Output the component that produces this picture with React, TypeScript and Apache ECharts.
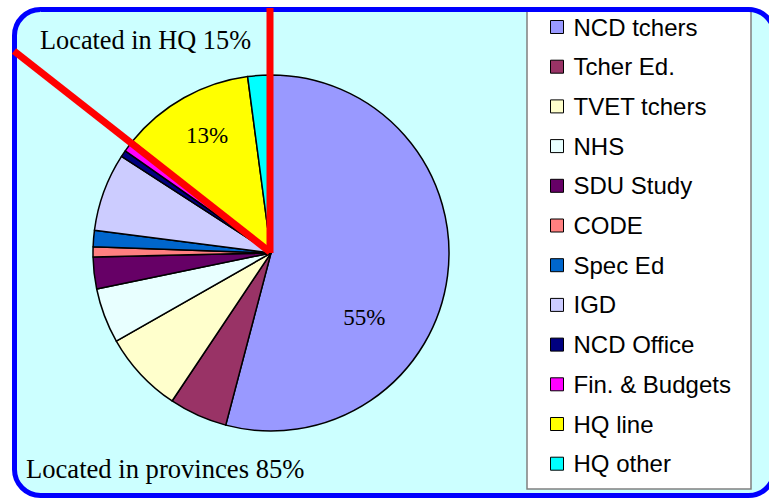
import React, { useEffect, useRef } from "react";
import * as echarts from "echarts";

const categories = [
  "NCD tchers",
  "Tcher Ed.",
  "TVET tchers",
  "NHS",
  "SDU Study",
  "CODE",
  "Spec Ed",
  "IGD",
  "NCD Office",
  "Fin. & Budgets",
  "HQ line",
  "HQ other",
];
const values = [54.2, 5.3, 7.4, 5.0, 2.9, 0.9, 1.5, 7.1, 0.6, 1.1, 12.1, 2.1];
const colors = [
  "#9999FF",
  "#993366",
  "#FFFFCC",
  "#E8FFFF",
  "#660066",
  "#FF8080",
  "#0066CC",
  "#CCCCFF",
  "#000080",
  "#FF00FF",
  "#FFFF00",
  "#00FFFF",
];
const sliceLabels = ["55%", "", "", "", "", "", "", "", "", "", "13%", ""];
const sliceLabelOffsets: Record<number, number[]> = { 0: [2, 53], 10: [-19, -37] };
const hqText = "Located in HQ 15%";
const provText = "Located in provinces 85%";

export default function App() {
  const ref = useRef<HTMLDivElement>(null);
  useEffect(() => {
    if (!ref.current) return;
    const chart = echarts.init(ref.current, undefined, { renderer: "svg" });
    const cx = 271;
    const cy = 253;
    chart.setOption({
      animation: false,
      graphic: [
        {
          type: "rect",
          z: -1,
          shape: { x: 14.5, y: 9.5, width: 760, height: 486, r: 26 },
          style: { fill: "#CCFFFF", stroke: "none" },
        },
        {
          type: "rect",
          z: 3,
          shape: { x: 527, y: 8, width: 224, height: 481 },
          style: { fill: "#FFFFFF", stroke: "#808080", lineWidth: 1.5 },
        },
        {
          type: "rect",
          z: 100,
          shape: { x: 14.5, y: 9.5, width: 760, height: 486, r: 26 },
          style: { fill: "none", stroke: "#0000FF", lineWidth: 5 },
        },
        {
          type: "line",
          z: 100,
          shape: { x1: cx - 1, y1: cy, x2: cx - 1, y2: 8 },
          style: { stroke: "#FF0000", lineWidth: 7 },
        },
        {
          type: "line",
          z: 100,
          shape: { x1: cx - 1, y1: cy - 1, x2: 14, y2: 51 },
          style: { stroke: "#FF0000", lineWidth: 7 },
        },
        {
          type: "text",
          z: 100,
          x: 40,
          y: 40,
          style: {
            text: hqText,
            fontFamily: "Liberation Serif, Times New Roman, serif",
            fontSize: 26.3,
            fill: "#000",
            verticalAlign: "middle",
          },
        },
        {
          type: "text",
          z: 100,
          x: 26,
          y: 469,
          style: {
            text: provText,
            fontFamily: "Liberation Serif, Times New Roman, serif",
            fontSize: 26.6,
            fill: "#000",
            verticalAlign: "middle",
          },
        },
      ],
      legend: {
        orient: "vertical",
        left: 550,
        top: 15,
        height: 475,
        padding: 0,
        icon: "rect",
        itemWidth: 13,
        itemHeight: 13,
        itemGap: 15.7,
        selectedMode: false,
        data: categories,
        itemStyle: { borderColor: "#000", borderWidth: 1 },
        textStyle: {
          fontFamily: "Liberation Sans, Arial, sans-serif",
          fontSize: 24,
          color: "#000",
          padding: [0, 0, 0, 5],
        },
      },
      series: [
        {
          type: "pie",
          center: [cx, cy],
          radius: 178,
          startAngle: 90,
          clockwise: true,
          avoidLabelOverlap: false,
          emphasis: { disabled: true },
          itemStyle: { borderColor: "#000", borderWidth: 1.5 },
          labelLine: { show: false },
          label: {
            show: true,
            position: "inside",
            fontFamily: "Liberation Serif, Times New Roman, serif",
            fontSize: 23,
            color: "#000",
            formatter: (p: any) => sliceLabels[p.dataIndex],
          },
          data: categories.map((name, i) => ({
            name,
            value: values[i],
            itemStyle: { color: colors[i] },
            label: sliceLabels[i]
              ? { show: true, offset: sliceLabelOffsets[i] || [0, 0] }
              : { show: false },
          })),
        },
      ],
    });
    return () => chart.dispose();
  }, []);
  return (
    <div
      ref={ref}
      style={{ position: "absolute", left: 0, top: 0, width: 769, height: 498 }}
    />
  );
}
